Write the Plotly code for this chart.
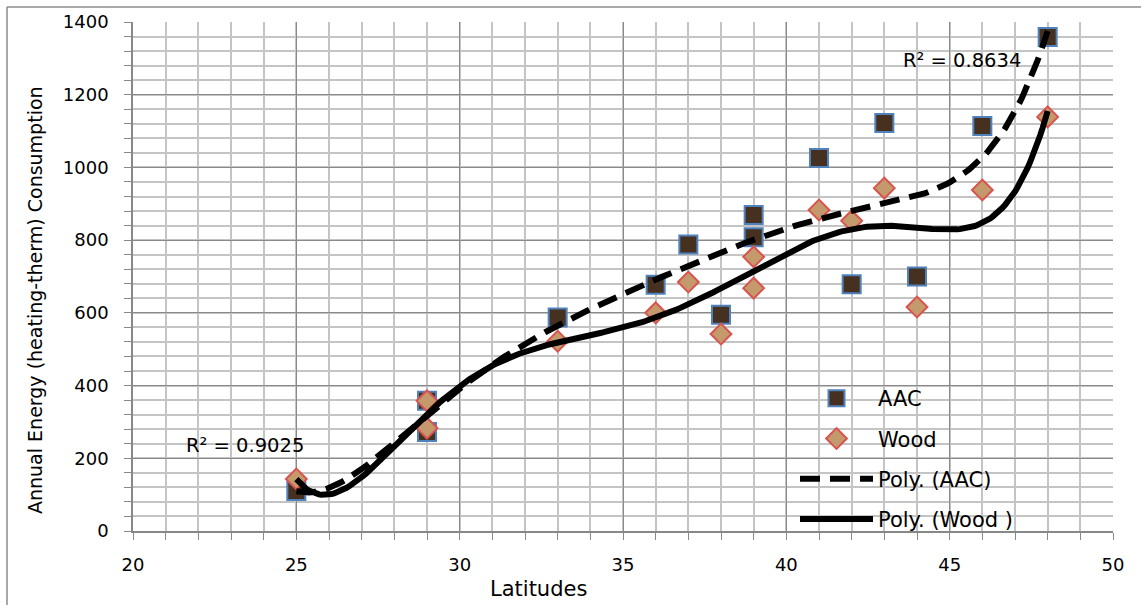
import numpy as np
import plotly.graph_objects as go

# Data
aac_lat = [25, 29, 29, 33, 36, 37, 38, 39, 39, 41, 42, 43, 44, 46, 48]
aac_energy = [110, 358, 272, 587, 677, 788, 595, 869, 808, 1026, 679, 1122, 700, 1114, 1359]
wood_lat = [25, 29, 29, 33, 36, 37, 38, 39, 39, 41, 42, 43, 44, 46, 48]
wood_energy = [143, 358, 283, 522, 600, 685, 542, 754, 668, 883, 853, 943, 616, 938, 1139]
r2_labels = ["R² = 0.9025", "R² = 0.8634"]
x_ticks = [20, 25, 30, 35, 40, 45, 50]
y_ticks = [0, 200, 400, 600, 800, 1000, 1200, 1400]
POLY_DEGREE = 6

FONT = "DejaVu Sans, sans-serif"


def poly_curve(x, y, deg):
    c = np.polyfit(np.array(x, float), np.array(y, float), deg)
    xs = np.linspace(min(x), max(x), 300)
    return xs, np.polyval(c, xs)


ax, ay = poly_curve(aac_lat, aac_energy, POLY_DEGREE)
wx, wy = poly_curve(wood_lat, wood_energy, POLY_DEGREE)

fig = go.Figure()
fig.add_trace(go.Scatter(
    x=aac_lat, y=aac_energy, mode="markers", name="AAC", legendgroup="a",
    marker=dict(symbol="square", size=18, color="#46301f",
                line=dict(color="#4f81bd", width=2)),
))
fig.add_trace(go.Scatter(
    x=wood_lat, y=wood_energy, mode="markers", name="Wood", legendgroup="b",
    marker=dict(symbol="diamond", size=16, color="#c49a6c",
                line=dict(color="#d9534f", width=2)),
))
fig.add_trace(go.Scatter(
    x=ax, y=ay, mode="lines", name="Poly. (AAC)", legendgroup="c",
    line=dict(color="black", width=6, dash="20px,10px"),
))
fig.add_trace(go.Scatter(
    x=wx, y=wy, mode="lines", name="Poly. (Wood )", legendgroup="d",
    line=dict(color="black", width=6),
))

fig.add_annotation(x=23.43, y=236, text=r2_labels[0], showarrow=False,
                   font=dict(size=19.5, color="black", family=FONT))
fig.add_annotation(x=45.37, y=1295, text=r2_labels[1], showarrow=False,
                   font=dict(size=19.5, color="black", family=FONT))
# axis titles (placed as in the reference)
fig.add_annotation(xref="paper", yref="paper", x=(538 - 133) / 980, y=-(589 - 531) / 509,
                   text="Latitudes", showarrow=False, yanchor="middle",
                   font=dict(size=21, color="black", family=FONT))
fig.add_annotation(xref="paper", yref="paper", x=-(133 - 35) / 980, y=(531 - 300) / 509,
                   text="Annual Energy (heating-therm) Consumption", showarrow=False,
                   textangle=-90, xanchor="center", yanchor="middle",
                   font=dict(size=19, color="black", family=FONT))

fig.update_layout(
    width=1141, height=605,
    margin=dict(l=133, r=28, t=22, b=74),
    paper_bgcolor="white", plot_bgcolor="white",
    font=dict(family=FONT, size=18, color="black"),
    showlegend=True,
    legend=dict(x=(795 - 133) / 980, y=(531 - 378) / 509, xanchor="left", yanchor="top",
                bgcolor="rgba(0,0,0,0)", font=dict(size=21), itemwidth=73,
                traceorder="grouped", tracegroupgap=10),
    shapes=[
        dict(type="line", xref="paper", yref="paper",
             x0=-126 / 980, x1=-126 / 980, y0=-0.3, y1=1 + 15 / 509,
             line=dict(color="#8c8c8c", width=1.5)),
        dict(type="line", xref="paper", yref="paper",
             x0=-126 / 980, x1=1.2, y0=1 + 15 / 509, y1=1 + 15 / 509,
             line=dict(color="#8c8c8c", width=1.5)),
    ],
)
fig.update_xaxes(
    range=[20, 50], tickvals=x_ticks, ticks="outside", ticklen=7,
    tickcolor="#888", showline=True, linecolor="#888", linewidth=1.5,
    showgrid=True, gridcolor="#8a8a8a", gridwidth=1.2, zeroline=False,
    ticklabelstandoff=10,
    minor=dict(dtick=1, ticks="outside", ticklen=7, tickcolor="#888",
               showgrid=True, gridcolor="#c4c4c4", gridwidth=1.6),
)
fig.update_yaxes(
    range=[0, 1400], tickvals=y_ticks, ticks="outside", ticklen=7,
    tickcolor="#888", showline=True, linecolor="#888", linewidth=1.5,
    showgrid=True, gridcolor="#8a8a8a", gridwidth=1.2, zeroline=False,
    ticklabelstandoff=12,
    minor=dict(dtick=40, ticks="outside", ticklen=7, tickcolor="#888",
               showgrid=True, gridcolor="#c4c4c4", gridwidth=1.6),
)

fig.write_html("out.html")
